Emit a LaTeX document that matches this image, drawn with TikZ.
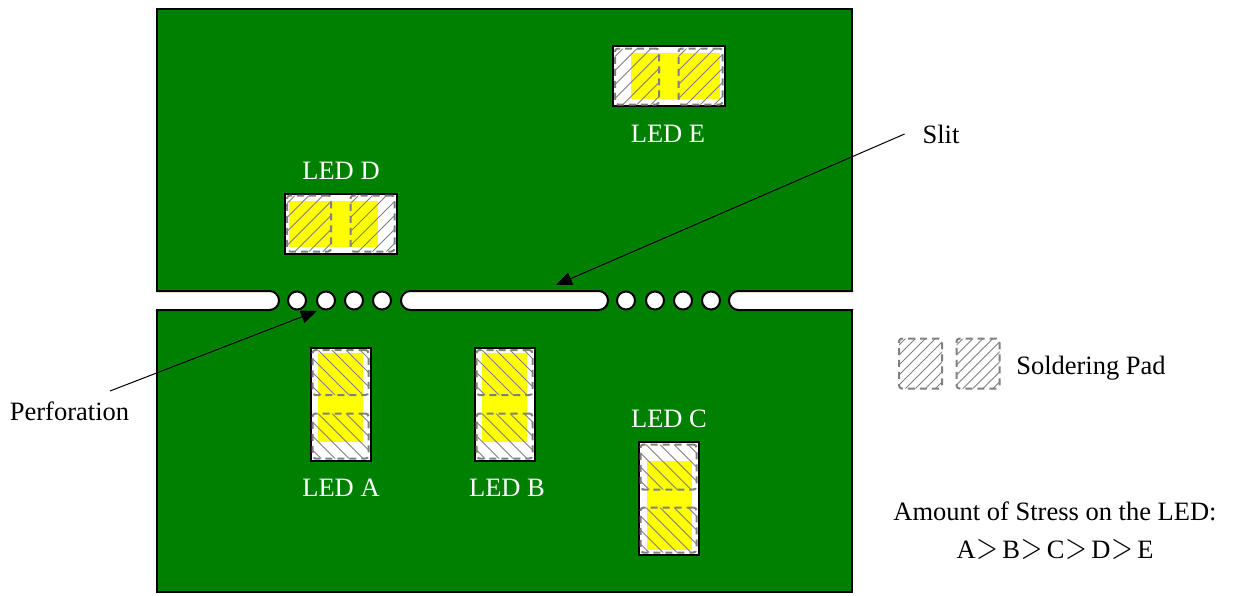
\documentclass[tikz,border=0pt]{standalone}
\usepackage{fontspec}
\usepackage{graphicx}
\setmainfont{Liberation Serif}
\usetikzlibrary{arrows.meta}
\definecolor{boardgreen}{HTML}{008000}
\definecolor{hatchgray}{HTML}{808080}
\definecolor{chipyellow}{RGB}{255,255,0}
\newcommand{\gtmark}{\kern0.5pt\scalebox{1.15}[1.45]{$>$}\kern4.5pt}
\begin{document}
\begin{tikzpicture}[x=1pt,y=-1pt]
\tikzset{cel/.style={inner sep=0pt,outer sep=0pt},
board/.style={cel,draw,line width=2pt,fill=boardgreen,minimum width=695pt,minimum height=282pt},
slit/.style={draw,line width=2pt,fill=white},
hole/.style={cel,circle,slit,minimum size=18pt},
ledh/.style={cel,draw,line width=2pt,fill=white,minimum width=112pt,minimum height=60pt},
ledv/.style={cel,draw,line width=2pt,fill=white,minimum width=60pt,minimum height=113pt},
chiph/.style={cel,fill=chipyellow,minimum width=89pt,minimum height=46pt},
chipv/.style={cel,fill=chipyellow,minimum width=45pt,minimum height=89pt},
hatch/.style={draw=hatchgray,solid,sharp corners,line width=1pt},
pad/.style={cel,draw=hatchgray,line width=2pt,dash pattern=on 7pt off 5pt,rounded corners=3pt},
padh/.style={pad,minimum width=44pt,minimum height=56pt,
  path picture={\foreach \d in {-98,-84,...,98}
    \draw[hatch] ([shift={(\d-60,60)}]path picture bounding box.center) -- ++(120,-120);}},
padv/.style={pad,minimum width=56pt,minimum height=45pt,
  path picture={\foreach \d in {-98,-84,...,98}
    \draw[hatch] ([shift={(\d-60,-60)}]path picture bounding box.center) -- ++(120,120);}},
legendpad/.style={pad,minimum width=43pt,minimum height=50pt,
  path picture={\foreach \d in {-100,-90,...,100}
    \draw[hatch] ([shift={(\d-60,60)}]path picture bounding box.center) -- ++(120,-120);}},
lbl/.style={cel,font=\fontsize{26.5}{30}\selectfont},
ledlbl/.style={lbl,text=white},
}
\useasboundingbox (0,0) rectangle (1234,595);

% boards
\node[board] (upper) at (504.5,150) {};
\node[board] (lower) at (504.5,451) {};
\fill[boardgreen] (270,289) rectangle (410,312);
\fill[boardgreen] (600,289) rectangle (740,312);

% slits
\draw[slit,rounded corners=9.5pt] (156,291) -- (279,291) -- (279,310) -- (156,310);
\node[cel,slit,rounded corners=9.5pt,minimum width=207pt,minimum height=19pt] (slitmid) at (504.5,300.5) {};
\draw[slit,rounded corners=9.5pt] (853,291) -- (729,291) -- (729,310) -- (853,310);

% perforation
\foreach \x/\n in {297/a,326/b,354/c,382/d,626/e,655/f,683/g,711/h}
  \node[hole] (hole\n) at (\x,300.5) {};

% led a
\node[ledv] (leda) at (340.5,404) {};
\node[chipv] (chipa) at (340.5,397.5) {};
\node[padv] (padat) at (340.5,372.5) {};
\node[padv] (padab) at (340.5,436) {};
% led b
\node[ledv] (ledb) at (504.5,404) {};
\node[chipv] (chipb) at (504.5,397.5) {};
\node[padv] (padbt) at (504.5,372.5) {};
\node[padv] (padbb) at (504.5,436) {};
% led c
\node[ledv] (ledc) at (668.5,498.5) {};
\node[chipv] (chipc) at (669,505.5) {};
\node[padv] (padct) at (668.5,467) {};
\node[padv] (padcb) at (668.5,530) {};
% led d
\node[ledh] (ledd) at (340.5,223.5) {};
\node[chiph] (chipd) at (333.5,224) {};
\node[padh] (paddl) at (309,223.5) {};
\node[padh] (paddr) at (372.5,223.5) {};
% led e
\node[ledh] (lede) at (669,76) {};
\node[chiph] (chipe) at (675.5,76) {};
\node[padh] (padel) at (637,76.5) {};
\node[padh] (pader) at (700.5,76.5) {};

\node[ledlbl] (lbla) at (341,487.5) {LED A};
\node[ledlbl] (lblb) at (507,487.5) {LED B};
\node[ledlbl] (lblc) at (669,419) {LED C};
\node[ledlbl] (lbld) at (341,171) {LED D};
\node[ledlbl] (lble) at (668,134) {LED E};

% legend
\node[legendpad] (legenda) at (920.5,363.5) {};
\node[legendpad] (legendb) at (978,363.5) {};
\node[lbl] (legend) at (1091,368) {Soldering Pad};
\node[lbl] (stress) at (1055,511.5) {Amount of Stress on the LED:};
\node[lbl] (order) at (1055,549) {A\gtmark B\gtmark C\gtmark D\gtmark E};

% callouts
\node[lbl] (slitlbl) at (941,134) {Slit};
\node[lbl] (perflbl) at (69.5,411) {Perforation};
\coordinate (slittip) at (556,285);
\coordinate (perftip) at (317,311);
\coordinate (perfstart) at (110,391);
\path[-{Triangle[length=16pt,width=13pt]},draw,line width=1pt] (slitlbl.west) ++(-18,0) -- (slittip);
\path[-{Triangle[length=16pt,width=13pt]},draw,line width=1pt] (perfstart) -- (perftip);

\end{tikzpicture}
\end{document}
